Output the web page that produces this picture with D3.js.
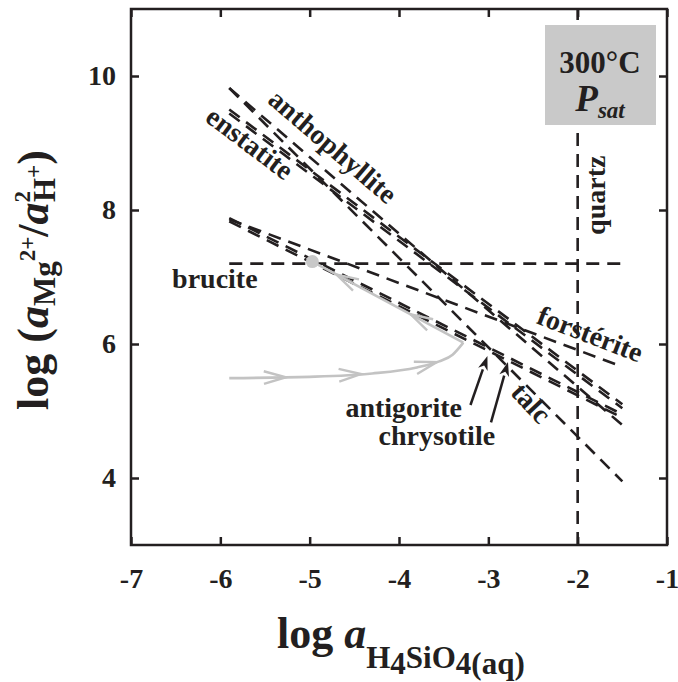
<!DOCTYPE html>
<html><head><meta charset="utf-8">
<script src="https://cdn.jsdelivr.net/npm/d3@7"></script>
<style>
html,body{margin:0;padding:0;background:#fff;}
text{font-family:"Liberation Serif","Times New Roman",serif;font-weight:bold;fill:#231f20;}
</style></head>
<body>
<svg id="chart" width="678" height="682"></svg>
<script>
// ---- data ----
const xTicks = [-7,-6,-5,-4,-3,-2,-1];
const yTicks = [4,6,8,10];
const xDomain = [-7,-1];
const yDomain = [3,11];

// mineral saturation lines (log aH4SiO4 , log aMg/aH^2)
const lineNames  = ["talc","anthophyllite","enstatite","enstatite","forsterite","chrysotile","antigorite"];
const lineStartX = [-5.9,-5.9,-5.9,-5.9,-5.9,-5.9,-5.9];
const lineStartY = [9.82,9.82,9.50,9.44,7.86,7.88,7.83];
const lineEndX   = [-1.5,-1.5,-1.5,-1.5,-1.5,-1.5,-1.5];
const lineEndY   = [3.95,4.79,5.10,5.04,5.66,4.95,4.90];

const bruciteX = [-5.9,-1.5];
const bruciteY = [7.2,7.2];
const quartzX  = [-2,-2];
const quartzY  = [3,11];

// grey reaction path
const pathFwdX = [-5.9,-5.0,-4.3,-3.8,-3.55,-3.4,-3.28];
const pathFwdY = [5.49,5.51,5.56,5.65,5.74,5.84,6.02];
const pathBackX = [-3.28,-4.97];
const pathBackY = [6.02,7.23];
const fwdArrowX = [-5.31,-4.47,-3.62];
const backArrowX = [-3.83,-4.66];
const dotX = [-4.97];
const dotY = [7.23];

// labels
const labelText  = ["anthophyllite","enstatite","forstérite","talc","quartz"];
const labelX     = [-4.74,-5.67,-1.86,-2.52,-1.80];
const labelY     = [8.95,9.0,6.15,5.12,8.22];
const labelAngle = [40.6,37,21,47,-90];
const bruciteLabel = {text:"brucite", x:-6.54, y:6.84};
const arrowLabels = ["antigorite","chrysotile"];
const arrowLabelX = [-4.6,-4.23];
const arrowLabelY = [4.915,4.49];
const arrowTailX = [-3.2,-2.97];
const arrowTailY = [5.09,4.83];
const arrowTipX  = [-3.01,-2.78];
const arrowTipY  = [5.82,5.73];

// ---- chart ----
const svg = d3.select("#chart");
const L=131, R=667, T=9, B=545;
const x = d3.scaleLinear().domain(xDomain).range([L,R]);
const y = d3.scaleLinear().domain(yDomain).range([B,T]);
const ink = "#231f20";
const dash = "13,8";
const labelSize = 28;

// axes
const gx = svg.append("g").attr("transform",`translate(0,${B})`)
  .call(d3.axisBottom(x).tickValues(xTicks).tickSizeInner(-8).tickSizeOuter(0).tickPadding(23).tickFormat(d=>d.toString()));
const gxt = svg.append("g").attr("transform",`translate(0,${T})`)
  .call(d3.axisTop(x).tickValues(xTicks).tickSizeInner(-8).tickSizeOuter(0).tickFormat(""));
const gy = svg.append("g").attr("transform",`translate(${L},0)`)
  .call(d3.axisLeft(y).tickValues(yTicks).tickSizeInner(-8).tickSizeOuter(0).tickPadding(15));
const gyr = svg.append("g").attr("transform",`translate(${R},0)`)
  .call(d3.axisRight(y).tickValues(yTicks).tickSizeInner(-8).tickSizeOuter(0).tickFormat(""));
[gx,gxt,gy,gyr].forEach(g=>{
  g.select(".domain").remove();
  g.selectAll(".tick line").attr("stroke",ink).attr("stroke-width",2.5);
  g.selectAll(".tick text").attr("font-size",28).attr("fill",ink);
});

// dashed mineral lines
const lineG = svg.append("g").attr("fill","none").attr("stroke",ink).attr("stroke-width",2.6).attr("stroke-dasharray",dash);
lineNames.forEach((n,i)=>{
  lineG.append("line").attr("x1",x(lineStartX[i])).attr("y1",y(lineStartY[i]))
    .attr("x2",x(lineEndX[i])).attr("y2",y(lineEndY[i]));
});
lineG.append("line").attr("x1",x(bruciteX[0])).attr("y1",y(bruciteY[0])).attr("x2",x(bruciteX[1])).attr("y2",y(bruciteY[1]));
lineG.append("line").attr("x1",x(quartzX[0])).attr("y1",y(quartzY[0])).attr("x2",x(quartzX[1])).attr("y2",y(quartzY[1]));

// grey path
const grey = "#c3c3c3";
const fwd = pathFwdX.map((d,i)=>[d,pathFwdY[i]]);
const back = pathBackX.map((d,i)=>[d,pathBackY[i]]);
svg.append("path").attr("d",d3.line().x(d=>x(d[0])).y(d=>y(d[1])).curve(d3.curveMonotoneX)(fwd))
  .attr("fill","none").attr("stroke",grey).attr("stroke-width",2.6);
svg.append("path").attr("d",d3.line().x(d=>x(d[0])).y(d=>y(d[1]))(back))
  .attr("fill","none").attr("stroke",grey).attr("stroke-width",2.6);

function along(pts, xv){
  for(let i=0;i<pts.length-1;i++){
    const a=pts[i], b=pts[i+1];
    const lo=Math.min(a[0],b[0]), hi=Math.max(a[0],b[0]);
    if(xv>=lo && xv<=hi){
      const t=(xv-a[0])/(b[0]-a[0]);
      const yv=a[1]+t*(b[1]-a[1]);
      const ang=Math.atan2(y(b[1])-y(a[1]), x(b[0])-x(a[0]));
      return {px:x(xv), py:y(yv), ang};
    }
  }
}
function chevron(p){
  const len=23, spread=0.28;
  const a1=p.ang+Math.PI-spread, a2=p.ang+Math.PI+spread;
  const tx=p.px+4*Math.cos(p.ang), ty=p.py+4*Math.sin(p.ang);
  svg.append("path").attr("d",`M${tx+len*Math.cos(a1)},${ty+len*Math.sin(a1)}L${tx},${ty}L${tx+len*Math.cos(a2)},${ty+len*Math.sin(a2)}`)
    .attr("fill","none").attr("stroke",grey).attr("stroke-width",2.4);
}
fwdArrowX.forEach(v=>chevron(along(fwd,v)));
backArrowX.forEach(v=>chevron(along(back,v)));
svg.selectAll(".dot").data(dotX).join("circle").attr("cx",d=>x(d)).attr("cy",(d,i)=>y(dotY[i])).attr("r",6.5).attr("fill","#c8c8c8");

// labels
labelText.forEach((t,i)=>{
  svg.append("text").attr("transform",`translate(${x(labelX[i])},${y(labelY[i])}) rotate(${labelAngle[i]})`)
    .attr("text-anchor","middle").attr("dominant-baseline","central").attr("font-size",labelSize).text(t);
});
svg.append("text").attr("x",x(bruciteLabel.x)).attr("y",y(bruciteLabel.y)).attr("font-size",labelSize).text(bruciteLabel.text);
arrowLabels.forEach((t,i)=>{
  svg.append("text").attr("x",x(arrowLabelX[i])).attr("y",y(arrowLabelY[i])).attr("font-size",labelSize).text(t);
  const x1=x(arrowTailX[i]), y1=y(arrowTailY[i]), x2=x(arrowTipX[i]), y2=y(arrowTipY[i]);
  const ang=Math.atan2(y2-y1,x2-x1);
  const hl=14, hw=5;
  const bx=x2-hl*Math.cos(ang), by=y2-hl*Math.sin(ang);
  svg.append("line").attr("x1",x1).attr("y1",y1).attr("x2",bx).attr("y2",by).attr("stroke",ink).attr("stroke-width",2.5);
  const nx=-Math.sin(ang), ny=Math.cos(ang);
  const bx2=x2-(hl-4)*Math.cos(ang), by2=y2-(hl-4)*Math.sin(ang);
  svg.append("path").attr("d",`M${x2},${y2}L${bx+hw*nx},${by+hw*ny}L${bx2},${by2}L${bx-hw*nx},${by-hw*ny}Z`).attr("fill",ink);
});

// condition box
svg.append("rect").attr("x",545).attr("y",25).attr("width",111).attr("height",100).attr("fill","#c9c9c9");
svg.append("text").attr("x",600).attr("y",73).attr("text-anchor","middle").attr("font-size",31).text("300°C");
const ps = svg.append("text").attr("x",600).attr("y",111).attr("text-anchor","middle").attr("font-style","italic");
ps.append("tspan").attr("font-size",37).text("P");
ps.append("tspan").attr("font-size",23).attr("dy",7).text("sat");

// frame
svg.append("rect").attr("x",L).attr("y",T).attr("width",R-L).attr("height",B-T)
  .attr("fill","none").attr("stroke",ink).attr("stroke-width",2.5);

// x title
const xt = svg.append("text").attr("x",277).attr("y",648).attr("font-size",44);
xt.append("tspan").text("log ");
xt.append("tspan").attr("font-style","italic").text("a");
xt.append("tspan").attr("font-size",31).attr("dy",20).text("H");
xt.append("tspan").attr("font-size",31).attr("dy",6).text("4");
xt.append("tspan").attr("font-size",31).attr("dy",-6).text("SiO");
xt.append("tspan").attr("font-size",31).attr("dy",6).text("4(aq)");

// y title
const yt = svg.append("text").attr("transform","translate(48,410) rotate(-90)").attr("font-size",44);
yt.append("tspan").text("log (");
yt.append("tspan").attr("font-style","italic").text("a");
yt.append("tspan").attr("font-size",31).attr("dy",7).text("Mg");
yt.append("tspan").attr("font-size",23).attr("dy",-20).text("2+");
yt.append("tspan").attr("dy",13).text("/");
yt.append("tspan").attr("font-style","italic").text("a");
yt.append("tspan").attr("font-size",23).attr("dy",-18).text("2");
yt.append("tspan").attr("font-size",31).attr("dx",-11).attr("dy",25).text("H");
yt.append("tspan").attr("font-size",23).attr("dy",-14).text("+");
yt.append("tspan").attr("dy",7).text(")");
</script>
</body></html>
